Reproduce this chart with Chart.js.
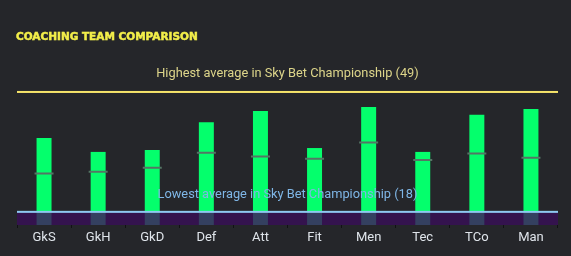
<!DOCTYPE html>
<html>
<head>
<meta charset="utf-8">
<script src="https://cdn.jsdelivr.net/npm/chart.js@4/dist/chart.umd.min.js"></script>
<style>
  html, body { margin: 0; padding: 0; background: #25262a; }
  #wrap { position: relative; width: 571px; height: 256px; }
</style>
</head>
<body>
<div id="wrap"><canvas id="coachChart" width="571" height="256"></canvas></div>
<script>
// Attribute categories along the x axis
const categories = ['GkS', 'GkH', 'GkD', 'Def', 'Att', 'Fit', 'Men', 'Tec', 'TCo', 'Man'];

// Our coaching team (green bars)
const teamValues = [37.1, 33.5, 34.0, 41.2, 44.1, 34.5, 45.1, 33.5, 43.1, 44.6];

// League average markers (grey dashes)
const leagueAverages = [27.9, 28.4, 29.4, 33.3, 32.3, 31.7, 35.9, 31.4, 33.1, 32.0];

// Reference lines
const highestAverage = 49;
const lowestAverage = 18;
const highestLabel = 'Highest average in Sky Bet Championship (' + highestAverage + ')';
const lowestLabel = 'Lowest average in Sky Bet Championship (' + lowestAverage + ')';

const axisMin = 14.6;
const axisMax = 50.8;

/**
 * Draws the background, title, purple band under the lowest line
 * and the two reference lines with their captions
 */
const decorations = {
	id: 'decorations',
	beforeDraw(chart) {
		const ctx = chart.ctx;
		ctx.save();
		ctx.fillStyle = '#25262a';
		ctx.fillRect(0, 0, chart.width, chart.height);

		// heavy title - stroke it a little to get the thick look
		ctx.fillStyle = '#f2ee4a';
		ctx.strokeStyle = '#f2ee4a';
		ctx.lineWidth = 0.5;
		ctx.font = 'bold 10.5px "DejaVu Sans"';
		ctx.textBaseline = 'middle';
		ctx.textAlign = 'left';
		ctx.fillText('COACHING TEAM COMPARISON', 16, 37);
		ctx.strokeText('COACHING TEAM COMPARISON', 16, 37);
		ctx.restore();
	},
	beforeDatasetsDraw(chart) {
		const ctx = chart.ctx;
		const area = chart.chartArea;
		const y = chart.scales.y;
		const top = y.getPixelForValue(lowestAverage);
		ctx.save();
		ctx.fillStyle = '#34134e';
		ctx.fillRect(area.left, top, area.right - area.left, area.bottom - top);
		ctx.restore();
	},
	afterDatasetsDraw(chart) {
		const ctx = chart.ctx;
		const area = chart.chartArea;
		const y = chart.scales.y;
		const cx = (area.left + area.right) / 2;

		let hy = y.getPixelForValue(highestAverage);
		ctx.save();
		ctx.fillStyle = '#f6e46a';
		ctx.fillRect(area.left, hy - 1, area.right - area.left, 2);

		let ly = y.getPixelForValue(lowestAverage);
		ctx.fillStyle = '#8ecaf2';
		ctx.fillRect(area.left, ly - 1, area.right - area.left, 2);

		ctx.font = '12.8px Roboto';
		ctx.textAlign = 'center';
		ctx.textBaseline = 'middle';
		ctx.fillStyle = '#ddd58a';
		ctx.fillText(highestLabel, cx, hy - 18);
		ctx.fillStyle = '#7fb6e6';
		ctx.fillText(lowestLabel, cx, ly - 17.5);
		ctx.restore();
	}
};

const ctx = document.getElementById('coachChart');

new Chart(ctx, {
	type: 'bar',
	data: {
		labels: categories,
		datasets: [
			{
				// league average dashes, drawn on top
				type: 'line',
				data: leagueAverages,
				showLine: false,
				pointStyle: 'line',
				pointRadius: 9.5,
				pointHoverRadius: 9.5,
				borderColor: '#557565',
				borderWidth: 2,
				order: 0
			},
			{
				data: teamValues.map(v => [lowestAverage, v]),
				backgroundColor: '#04ff6c',
				borderWidth: 0,
				grouped: false,
				barPercentage: 0.277,
				categoryPercentage: 1,
				order: 1
			},
			{
				// part of each bar that sits inside the band
				data: categories.map(() => [axisMin, lowestAverage]),
				backgroundColor: '#344060',
				borderWidth: 0,
				grouped: false,
				barPercentage: 0.277,
				categoryPercentage: 1,
				order: 2
			}
		]
	},
	options: {
		responsive: false,
		animation: false,
		events: [],
		layout: { padding: { left: 17, right: 13, top: 85, bottom: 0 } },
		plugins: {
			legend: { display: false },
			tooltip: { enabled: false },
			title: { display: false }
		},
		scales: {
			x: {
				afterFit(scale) { scale.height = 31; },
				border: { display: false },
				grid: {
					display: true,
					drawOnChartArea: false,
					drawTicks: true,
					tickLength: 3,
					color: '#111214'
				},
				ticks: {
					color: '#dfe4ea',
					font: { family: 'Roboto', size: 13 },
					padding: 2,
					maxRotation: 0
				}
			},
			y: {
				display: false,
				min: axisMin,
				max: axisMax
			}
		}
	},
	plugins: [decorations]
});
</script>
</body>
</html>
